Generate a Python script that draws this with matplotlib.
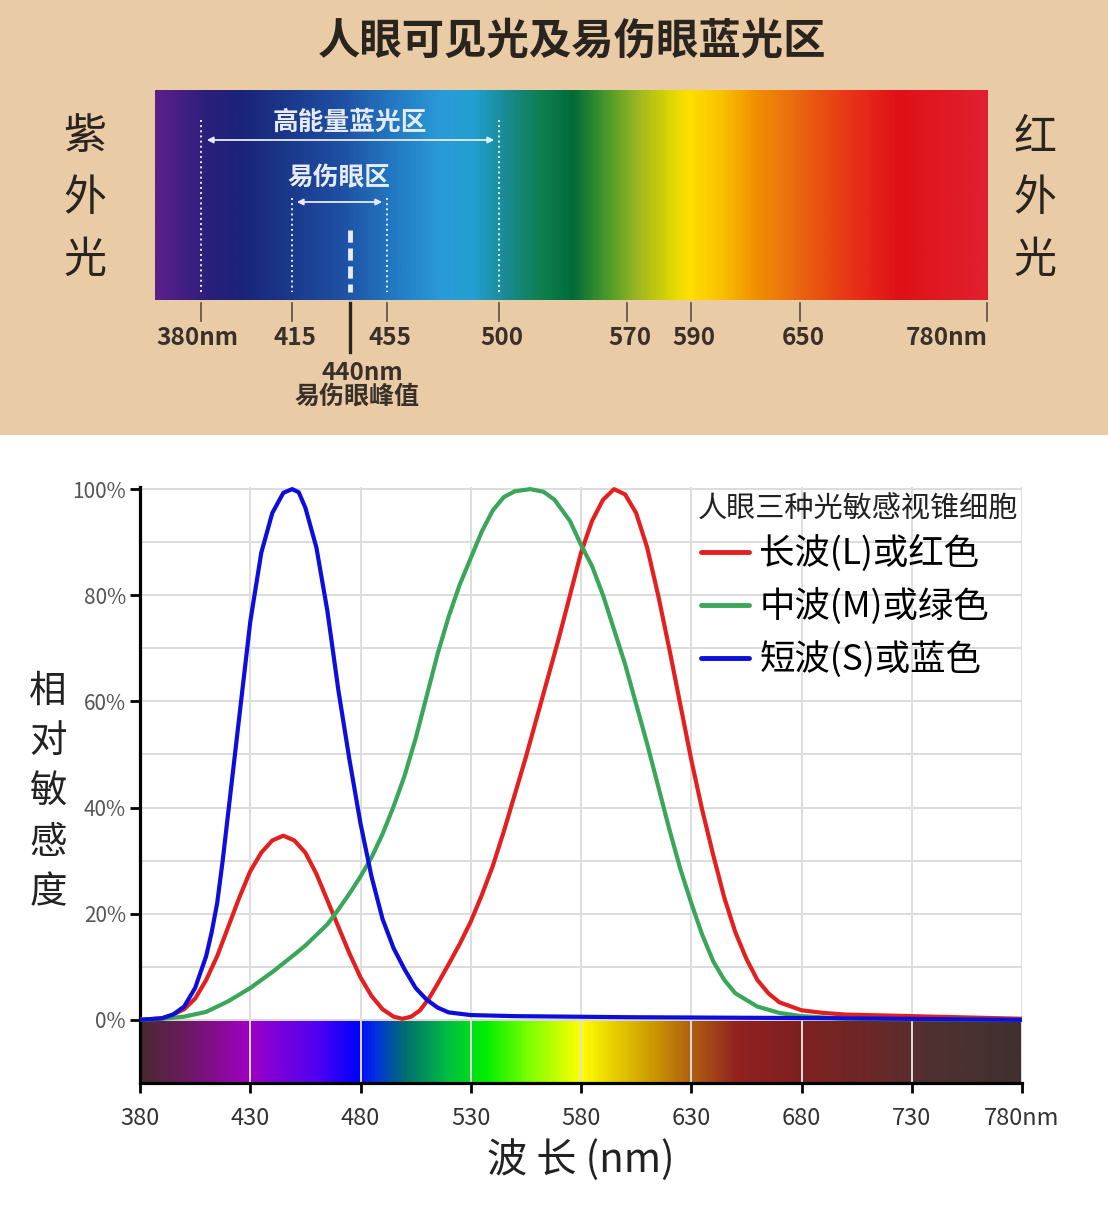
import numpy as np
import matplotlib
matplotlib.use("Agg")
import matplotlib.pyplot as plt
from matplotlib.colors import LinearSegmentedColormap
from matplotlib.patches import Rectangle

plt.rcParams['font.family'] = ['Noto Sans CJK SC', 'DejaVu Sans']

# ---- cone sensitivity curves (wavelength nm, relative %) ----
s_nm = [380, 390, 395, 400, 405, 410, 412.5, 415, 417.5, 420, 422.5, 425, 427.5, 430,
        435, 440, 445, 449, 452, 455, 460, 465, 470, 475, 480, 485, 490, 495, 500, 505,
        510, 515, 520, 530, 550, 600, 650, 700, 780]
s_val = [0, 0.3, 1.0, 2.5, 6, 12, 16.5, 22, 30, 39, 48, 57, 66, 75,
         88, 95.5, 99.3, 100, 99.4, 96.5, 89, 77, 62, 49, 37, 27, 19, 13.5, 9.5, 6,
         3.8, 2.3, 1.4, 0.9, 0.7, 0.5, 0.4, 0.3, 0]

l_nm = [380, 390, 395, 400, 405, 410, 415, 420, 425, 430, 435, 440, 445, 450, 455, 460,
        465, 470, 475, 480, 485, 490, 495, 499, 503, 507, 511, 515, 520, 525, 530, 535,
        540, 545, 550, 555, 560, 565, 570, 575, 580, 585, 590, 595, 600, 605, 610, 615,
        620, 625, 630, 635, 640, 645, 650, 655, 660, 665, 670, 680, 690, 700, 730, 780]
l_val = [0, 0.3, 1, 2, 4, 7.5, 12, 17.5, 23, 28, 31.5, 33.8, 34.7, 33.8, 31.5, 27.5,
         22.5, 17.5, 12.5, 8, 4.5, 2, 0.6, 0.2, 0.6, 1.8, 4, 6.8, 10.5, 14.3, 18.5, 23.5,
         29, 35.5, 42.5, 49.5, 57, 64.5, 72, 80, 88, 94, 98, 100, 99, 95.5, 89, 80,
         70, 59.5, 49, 39.5, 31, 23, 16.5, 11.5, 7.5, 5, 3.3, 1.8, 1.3, 1.0, 0.7, 0.2]

m_nm = [380, 390, 400, 410, 420, 430, 440, 450, 455, 460, 465, 470, 475, 480, 485, 490,
        495, 500, 505, 510, 515, 520, 525, 530, 535, 540, 545, 550, 557, 563, 568, 575,
        580, 585, 590, 595, 600, 605, 610, 615, 620, 625, 630, 635, 640, 645, 650, 660,
        670, 680, 700, 780]
m_val = [0, 0.2, 0.6, 1.5, 3.5, 6, 9, 12.3, 14, 16, 18, 20.8, 23.8, 27, 30.6, 35,
         40.2, 46, 53, 61, 69, 76, 82, 87, 92, 96, 98.5, 99.6, 100, 99.5, 98, 94,
         89.5, 85.5, 80, 73.5, 67, 59.5, 52, 44, 36, 28.5, 22, 16, 11, 7.5, 5, 2.5,
         1.3, 0.7, 0.2, 0]

x_ticks = [380, 430, 480, 530, 580, 630, 680, 730, 780]
x_tick_labels = ['380', '430', '480', '530', '580', '630', '680', '730', '780nm']
y_ticks = [0, 20, 40, 60, 80, 100]
y_tick_labels = ['0%', '20%', '40%', '60%', '80%', '100%']
y_grid = [0, 10, 20, 30, 40, 50, 60, 70, 80, 90, 100]
legend_title = '人眼三种光敏感视锥细胞'
legend_labels = ['长波(L)或红色', '中波(M)或绿色', '短波(S)或蓝色']
curve_colors = ['#e3201f', '#3aa65a', '#0d0ddc']

# spectrum strip under the chart
strip_nm = [380, 400, 428, 440, 460, 478, 486, 500, 520, 537, 557, 580, 610, 630, 652,
            677, 715, 740, 780]
strip_colors = ['#4a2a30', '#6a1a60', '#a000c0', '#8000d8', '#5000f0', '#0000ff', '#0030e0',
                '#007070', '#00c040', '#00f000', '#80ff00', '#ffff00', '#d0a000', '#b06010',
                '#902020', '#802020', '#6a2828', '#503030', '#403030']

# ---- top banner ----
banner_title = '人眼可见光及易伤眼蓝光区'
band_ticks = ['380nm', '415', '440', '455', '500', '570', '590', '650', '780nm']
band_x = [201, 292, 350, 387, 499, 627, 691, 800, 987]   # pixel positions of the marks
bar_px = [155, 207, 240, 290, 340, 390, 440, 473, 507, 540, 573, 607, 640, 673, 690,
          723, 757, 790, 823, 857, 900, 940, 988]
bar_colors = ['#5c1f8c', '#2a1f7a', '#1a237a', '#1b3a8c', '#1f4fa3', '#2277c0', '#2a9ad8',
              '#22a0d0', '#1a8a90', '#108050', '#006a3a', '#4a9a2a', '#a0b820', '#e0d800',
              '#ffe000', '#f8c000', '#f09000', '#ec7010', '#e85010', '#e83018', '#e01018',
              '#e01822', '#e02030']

W, H = 1108, 1216
fig = plt.figure(figsize=(W / 100, H / 100), dpi=100)
fig.patch.set_facecolor('white')

top = fig.add_axes([0, 1 - 435 / H, 1, 435 / H])
top.set_axis_off()
top.add_patch(Rectangle((0, 0), W, 435, color='#e9cba6', zorder=0))

bar_pos = [(p - bar_px[0]) / (bar_px[-1] - bar_px[0]) for p in bar_px]
bar_cmap = LinearSegmentedColormap.from_list('bar', list(zip(bar_pos, bar_colors)))
top.imshow(np.linspace(0, 1, 600)[None, :], cmap=bar_cmap, aspect='auto',
           extent=(155, 988, 300, 90), zorder=1)
top.set_xlim(0, W)
top.set_ylim(435, 0)

top.text(572, 42, banner_title, ha='center', va='center', fontsize=30.5,
         fontweight='heavy', color='#2a241f')
top.text(85, 199, '紫\n外\n光', ha='center', va='center', fontsize=31,
         linespacing=1.52, color='#2a241f')
top.text(1035, 199, '红\n外\n光', ha='center', va='center', fontsize=31,
         linespacing=1.52, color='#2a241f')

# white guides inside the bar
lc = '#e6ecf7'
for i in (0, 4):
    top.plot([band_x[i], band_x[i]], [120, 292], ls=':', color=lc, lw=1.4, zorder=2)
for i in (1, 3):
    top.plot([band_x[i], band_x[i]], [198, 292], ls=':', color=lc, lw=1.4, zorder=2)
top.plot([band_x[2], band_x[2]], [230, 292], ls=(0, (2.5, 1.2)), color=lc, lw=3.5, zorder=2)
top.annotate('', xy=(497, 140), xytext=(204, 140),
             arrowprops=dict(arrowstyle='<|-|>', color=lc, lw=1.3, mutation_scale=9))
top.annotate('', xy=(385, 202), xytext=(294, 202),
             arrowprops=dict(arrowstyle='<|-|>', color=lc, lw=1.3, mutation_scale=9))
top.text(350, 122, '高能量蓝光区', ha='center', va='center', fontsize=18.5,
         fontweight='bold', color=lc)
top.text(339, 178, '易伤眼区', ha='center', va='center', fontsize=18.5,
         fontweight='bold', color=lc)

# marks and labels under the bar
for i, (lab, px) in enumerate(zip(band_ticks, band_x)):
    if i == 2:
        top.plot([px, px], [303, 352], color='#2a241f', lw=2.4)
        continue
    top.plot([px, px], [303, 321], color='#5a4a40', lw=1.2)
    if i == 0:
        top.text(px - 4, 338, lab, ha='center', va='center', fontsize=17.5,
                 fontweight='bold', color='#3a302a')
    elif i == len(band_ticks) - 1:
        top.text(px + 1, 338, lab, ha='right', va='center', fontsize=17.5,
                 fontweight='bold', color='#3a302a')
    else:
        top.text(px + 3, 338, lab, ha='center', va='center', fontsize=17.5,
                 fontweight='bold', color='#3a302a')
top.text(362, 373, band_ticks[2] + 'nm', ha='center', va='center', fontsize=17.5,
         fontweight='bold', color='#3a302a')
top.text(357, 397, '易伤眼峰值', ha='center', va='center', fontsize=18,
         fontweight='bold', color='#3a302a')

# ---- lower chart ----
ax = fig.add_axes([140 / W, 133 / H, 882 / W, 596 / H])
ymin, ymax = -11.9, 100.4
ax.set_xlim(380, 780)
ax.set_ylim(ymin, ymax)

strip_pos = [(v - 380) / 400 for v in strip_nm]
strip_cmap = LinearSegmentedColormap.from_list('strip', list(zip(strip_pos, strip_colors)))
ax.imshow(np.linspace(0, 1, 800)[None, :], cmap=strip_cmap, aspect='auto',
          extent=(380, 780, ymin, 0), zorder=0.5)
ax.set_xlim(380, 780)
ax.set_ylim(ymin, ymax)

for g in y_grid:
    ax.plot([380, 780], [g, g], color='#dcdcdc', lw=1.4, zorder=1)
for t in x_ticks[1:]:
    ax.axvline(t, color='#dedede', lw=1.4, zorder=1)

ax.plot(l_nm, l_val, color=curve_colors[0], lw=3, solid_joinstyle='round',
        solid_capstyle='round', label=legend_labels[0], zorder=3)
ax.plot(m_nm, m_val, color=curve_colors[1], lw=3, solid_joinstyle='round',
        solid_capstyle='round', label=legend_labels[1], zorder=3)
ax.plot(s_nm, s_val, color=curve_colors[2], lw=3, solid_joinstyle='round',
        solid_capstyle='round', label=legend_labels[2], zorder=3)

for side in ('top', 'right'):
    ax.spines[side].set_visible(False)
for side in ('left', 'bottom'):
    ax.spines[side].set_linewidth(2.3)
    ax.spines[side].set_color('black')

ax.set_xticks(x_ticks)
ax.set_xticklabels(x_tick_labels, fontsize=17, color='#333333')
ax.set_yticks(y_ticks)
ax.set_yticklabels(y_tick_labels, fontsize=15, color='#555555')
ax.tick_params(axis='both', direction='out', length=7, width=2, color='black')
ax.tick_params(axis='x', pad=10)
ax.tick_params(axis='y', pad=3)

fig.text(581 / W, 1 - 1160 / H, '波 长 (nm)', ha='center', va='center', fontsize=29,
         color='#222222')
fig.text(48 / W, 1 - 792 / H, '相\n对\n敏\n感\n度', ha='center', va='center',
         fontsize=27, linespacing=1.38, color='#222222')

# legend title placed on its own, entries below it
ax.text(0.632, 0.962, legend_title, transform=ax.transAxes, ha='left', va='center',
        fontsize=21, color='#222222', zorder=4)
leg = ax.legend(loc='upper left', bbox_to_anchor=(0.612, 0.955), frameon=False,
                fontsize=25.5, handlelength=1.35, handletextpad=0.3,
                labelspacing=0.45, borderpad=0.1)
for line in leg.get_lines():
    line.set_linewidth(3.5)

fig.savefig('out.png', dpi=100)
